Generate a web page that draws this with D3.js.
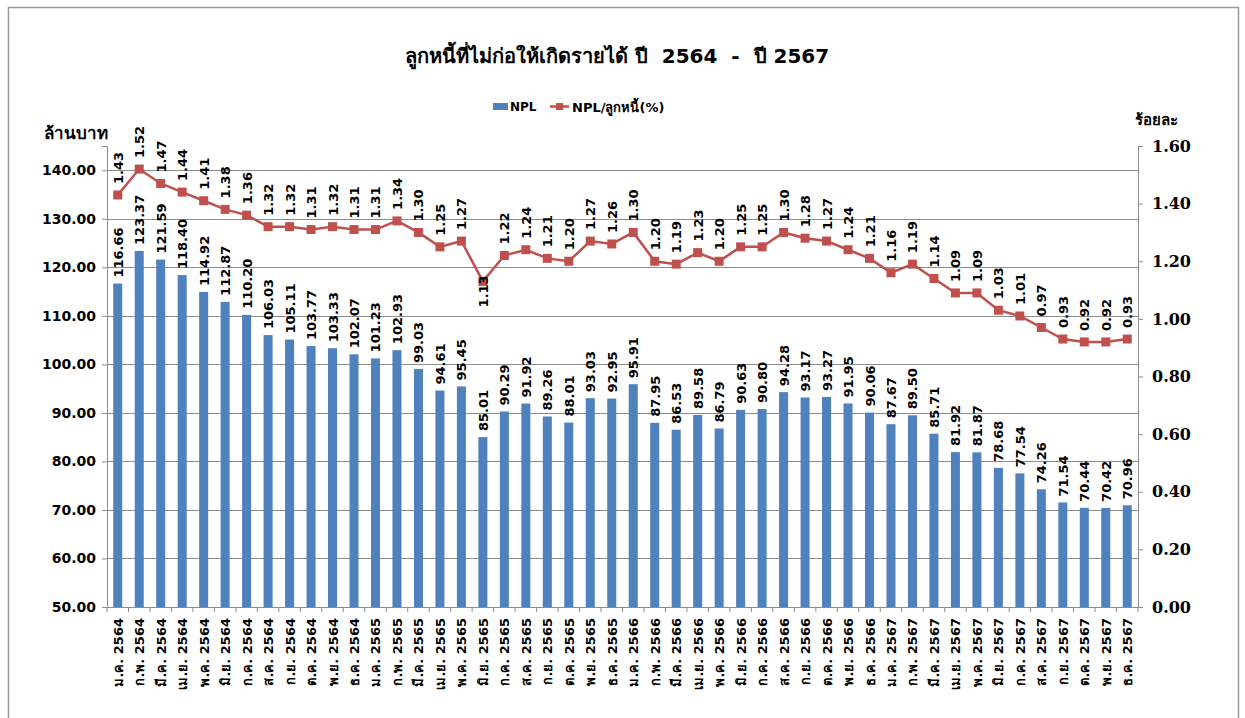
<!DOCTYPE html>
<html>
<head>
    <meta charset="utf-8">
    <title>NPL 2564 - 2567</title>
    <script src="https://d3js.org/d3.v7.min.js"></script>
    <style>
        body { margin: 0; background: #fff; }
        text { font-family: Tahoma, "DejaVu Sans", sans-serif; font-weight: bold; }
    </style>
</head>
<body>
    <div id="chart"></div>
    <script>
        // months / years for the x axis
        var months = ["ม.ค.", "ก.พ.", "มี.ค.", "เม.ย.", "พ.ค.", "มิ.ย.", "ก.ค.", "ส.ค.", "ก.ย.", "ต.ค.", "พ.ย.", "ธ.ค."];
        var years = ["2564", "2565", "2566", "2567"];

        // NPL, million baht
        var nplValues = [116.66, 123.37, 121.59, 118.40, 114.92, 112.87, 110.20, 106.03, 105.11, 103.77, 103.33, 102.07,
                         101.23, 102.93, 99.03, 94.61, 95.45, 85.01, 90.29, 91.92, 89.26, 88.01, 93.03, 92.95,
                         95.91, 87.95, 86.53, 89.58, 86.79, 90.63, 90.80, 94.28, 93.17, 93.27, 91.95, 90.06,
                         87.67, 89.50, 85.71, 81.92, 81.87, 78.68, 77.54, 74.26, 71.54, 70.44, 70.42, 70.96];

        // NPL / loans, percent
        var ratioValues = [1.43, 1.52, 1.47, 1.44, 1.41, 1.38, 1.36, 1.32, 1.32, 1.31, 1.32, 1.31,
                           1.31, 1.34, 1.30, 1.25, 1.27, 1.13, 1.22, 1.24, 1.21, 1.20, 1.27, 1.26,
                           1.30, 1.20, 1.19, 1.23, 1.20, 1.25, 1.25, 1.30, 1.28, 1.27, 1.24, 1.21,
                           1.16, 1.19, 1.14, 1.09, 1.09, 1.03, 1.01, 0.97, 0.93, 0.92, 0.92, 0.93];

        var leftTicks = [50, 60, 70, 80, 90, 100, 110, 120, 130, 140];
        var rightTicks = [0, 0.2, 0.4, 0.6, 0.8, 1.0, 1.2, 1.4, 1.6];

        var categories = [];
        years.forEach(function(y) {
            months.forEach(function(m) { categories.push(m + " " + y); });
        });

        var data = categories.map(function(c, i) {
            return {cat: c, npl: nplValues[i], ratio: ratioValues[i], idx: i};
        });

        var W = 1245, H = 718;
        var plot = {left: 107, right: 1138, top: 146, bottom: 607};

        var svg = d3.select("#chart").append("svg")
            .attr("width", W)
            .attr("height", H);

        // outer chart border
        svg.append("path")
            .attr("d", "M8.5,730 V7.5 H1238.5 V730")
            .attr("fill", "none")
            .attr("stroke", "#999")
            .attr("stroke-width", 1.5);

        var x = d3.scaleBand()
            .domain(categories)
            .range([plot.left, plot.right])
            .paddingInner(0.58)
            .paddingOuter(0.29);

        var yL = d3.scaleLinear().domain([50, 145]).range([plot.bottom, plot.top]);
        var yR = d3.scaleLinear().domain([0, 1.6]).range([plot.bottom, plot.top]);

        // gridlines
        svg.append("g").selectAll("line")
            .data(leftTicks.slice(1))
            .enter().append("line")
            .attr("x1", plot.left).attr("x2", plot.right)
            .attr("y1", function(d) { return Math.round(yL(d)) + 0.5; })
            .attr("y2", function(d) { return Math.round(yL(d)) + 0.5; })
            .attr("stroke", "#8c8c8c")
            .attr("stroke-width", 1);

        // bars
        svg.append("g").selectAll("rect")
            .data(data)
            .enter().append("rect")
            .attr("x", function(d) { return x(d.cat); })
            .attr("width", x.bandwidth())
            .attr("y", function(d) { return yL(d.npl); })
            .attr("height", function(d) { return plot.bottom - yL(d.npl); })
            .attr("fill", "#4F81BD");

        // left axis
        var leftAxis = svg.append("g")
            .attr("transform", "translate(" + plot.left + ",0)")
            .call(d3.axisLeft(yL).tickValues(leftTicks).tickFormat(d3.format(".2f")).tickSize(5).tickPadding(6));
        leftAxis.selectAll("text").style("font-size", "14px").attr("fill", "#000");

        // right axis
        var rightAxis = svg.append("g")
            .attr("transform", "translate(" + plot.right + ",0)")
            .call(d3.axisRight(yR).tickValues(rightTicks).tickFormat(d3.format(".2f")).tickSize(5).tickPadding(9));
        rightAxis.selectAll("text")
            .style("font-family", "\"DejaVu Serif\", \"Liberation Serif\", serif")
            .style("font-size", "16px")
            .attr("fill", "#000");

        // bottom axis
        var bottomAxis = svg.append("g")
            .attr("transform", "translate(0," + plot.bottom + ")")
            .call(d3.axisBottom(x).tickSize(0).tickFormat(""));
        bottomAxis.selectAll(".tick").remove();
        svg.append("g").selectAll("line")
            .data(categories.concat(["end"]))
            .enter().append("line")
            .attr("x1", function(d, i) { return plot.left + i * x.step(); })
            .attr("x2", function(d, i) { return plot.left + i * x.step(); })
            .attr("y1", plot.bottom)
            .attr("y2", plot.bottom + 5)
            .attr("stroke", "#8c8c8c");

        svg.selectAll(".domain").attr("stroke", "#8c8c8c");
        svg.selectAll(".tick line").attr("stroke", "#8c8c8c");

        // category labels
        svg.append("g").selectAll("text")
            .data(data)
            .enter().append("text")
            .attr("transform", function(d) {
                return "translate(" + (x(d.cat) + x.bandwidth() / 2 + 5) + "," + (plot.bottom + 11) + ") rotate(-90)";
            })
            .attr("text-anchor", "end")
            .style("font-size", "13px")
            .text(function(d) { return d.cat; });

        // bar value labels
        svg.append("g").selectAll("text")
            .data(data)
            .enter().append("text")
            .attr("transform", function(d) {
                return "translate(" + (x(d.cat) + x.bandwidth() / 2 + 5) + "," + (yL(d.npl) - 6) + ") rotate(-90)";
            })
            .attr("text-anchor", "start")
            .style("font-size", "13px")
            .text(function(d) { return d3.format(".2f")(d.npl); });

        // ratio line
        var line = d3.line()
            .x(function(d) { return x(d.cat) + x.bandwidth() / 2; })
            .y(function(d) { return yR(d.ratio); });

        svg.append("path")
            .datum(data)
            .attr("d", line)
            .attr("fill", "none")
            .attr("stroke", "#C0504D")
            .attr("stroke-width", 2.5);

        svg.append("g").selectAll("rect")
            .data(data)
            .enter().append("rect")
            .attr("x", function(d) { return x(d.cat) + x.bandwidth() / 2 - 4.5; })
            .attr("y", function(d) { return yR(d.ratio) - 4.5; })
            .attr("width", 9)
            .attr("height", 9)
            .attr("fill", "#C0504D");

        // ratio labels (the dip at 1.13 sits under its marker)
        var minIdx = d3.minIndex(ratioValues.slice(0, 24));
        svg.append("g").selectAll("text")
            .data(data)
            .enter().append("text")
            .attr("transform", function(d) {
                var yy = d.idx === minIdx ? yR(d.ratio) + 26 : yR(d.ratio) - 11;
                return "translate(" + (x(d.cat) + x.bandwidth() / 2 + 5) + "," + yy + ") rotate(-90)";
            })
            .attr("text-anchor", "start")
            .style("font-size", "13px")
            .text(function(d) { return d3.format(".2f")(d.ratio); });

        // title
        svg.append("text")
            .attr("x", 617)
            .attr("y", 63)
            .attr("text-anchor", "middle")
            .style("font-size", "20px")
            .style("white-space", "pre")
            .text("ลูกหนี้ที่ไม่ก่อให้เกิดรายได้ ปี  2564  -  ปี 2567");

        // axis titles
        svg.append("text")
            .attr("x", 44).attr("y", 139)
            .style("font-size", "17px")
            .text("ล้านบาท");
        svg.append("text")
            .attr("x", 1135).attr("y", 125)
            .style("font-size", "15px")
            .text("ร้อยละ");

        // legend
        var legend = svg.append("g").attr("transform", "translate(493,103)");
        legend.append("rect")
            .attr("width", 15).attr("height", 7)
            .attr("fill", "#4F81BD");
        legend.append("text")
            .attr("x", 17).attr("y", 8)
            .style("font-size", "12px")
            .text("NPL");
        legend.append("line")
            .attr("x1", 57).attr("x2", 76)
            .attr("y1", 3.5).attr("y2", 3.5)
            .attr("stroke", "#C0504D").attr("stroke-width", 2.5);
        legend.append("rect")
            .attr("x", 63).attr("y", 0)
            .attr("width", 7).attr("height", 7)
            .attr("fill", "#C0504D");
        legend.append("text")
            .attr("x", 79).attr("y", 9)
            .style("font-size", "13px")
            .text("NPL/ลูกหนี้(%)");
    </script>
</body>
</html>
